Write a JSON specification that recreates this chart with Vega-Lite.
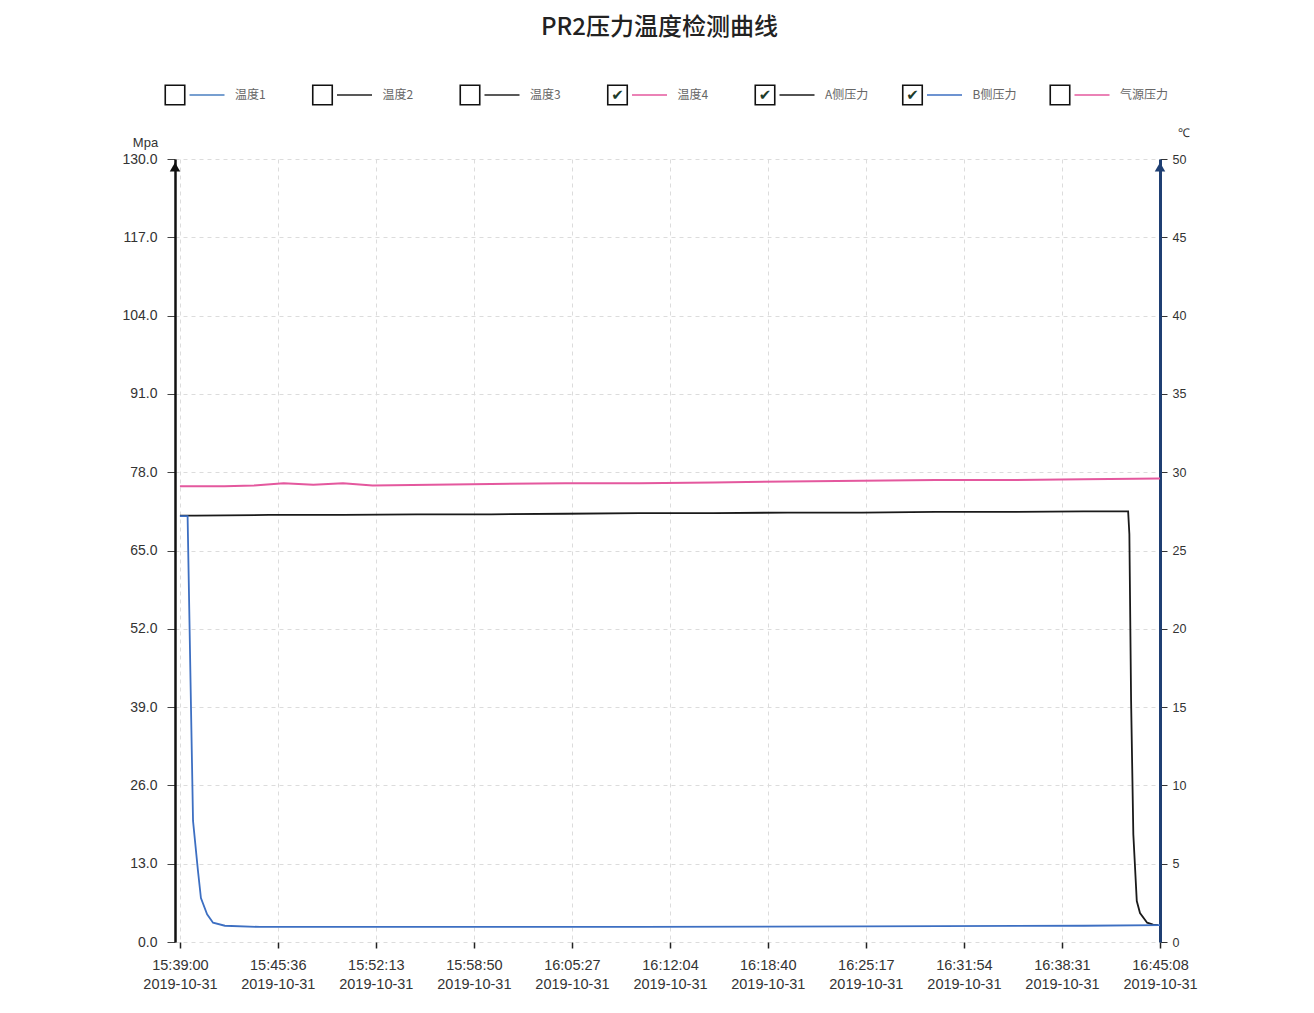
{
  "$schema": "https://vega.github.io/schema/vega-lite/v6.json",
  "padding": {"left": 121, "top": 16, "right": 5, "bottom": 5},
  "background": "white",
  "title": {"text": "PR2压力温度检测曲线", "font": "Noto Sans CJK SC", "fontSize": 24, "fontWeight": 500, "color": "#222", "anchor": "middle", "offset": 42},
  "datasets": {
    "legend": [
      {"name": "温度1", "checked": false},
      {"name": "温度2", "checked": false},
      {"name": "温度3", "checked": false},
      {"name": "温度4", "checked": true},
      {"name": "A侧压力", "checked": true},
      {"name": "B侧压力", "checked": true},
      {"name": "气源压力", "checked": false}
    ],
    "pressure": [
      {"series": "A侧压力", "time": "2019-10-31T15:39:00", "value": 70.8},
      {"series": "A侧压力", "time": "2019-10-31T15:40:00", "value": 70.8},
      {"series": "A侧压力", "time": "2019-10-31T15:45:00", "value": 70.9},
      {"series": "A侧压力", "time": "2019-10-31T15:50:00", "value": 70.9},
      {"series": "A侧压力", "time": "2019-10-31T15:55:00", "value": 71.0},
      {"series": "A侧压力", "time": "2019-10-31T16:00:00", "value": 71.0},
      {"series": "A侧压力", "time": "2019-10-31T16:05:00", "value": 71.1},
      {"series": "A侧压力", "time": "2019-10-31T16:10:00", "value": 71.2},
      {"series": "A侧压力", "time": "2019-10-31T16:15:00", "value": 71.2},
      {"series": "A侧压力", "time": "2019-10-31T16:20:00", "value": 71.3},
      {"series": "A侧压力", "time": "2019-10-31T16:25:00", "value": 71.3},
      {"series": "A侧压力", "time": "2019-10-31T16:30:00", "value": 71.4},
      {"series": "A侧压力", "time": "2019-10-31T16:35:00", "value": 71.4},
      {"series": "A侧压力", "time": "2019-10-31T16:40:00", "value": 71.5},
      {"series": "A侧压力", "time": "2019-10-31T16:42:59", "value": 71.5},
      {"series": "A侧压力", "time": "2019-10-31T16:43:04", "value": 67.7},
      {"series": "A侧压力", "time": "2019-10-31T16:43:11", "value": 40.0},
      {"series": "A侧压力", "time": "2019-10-31T16:43:20", "value": 17.9},
      {"series": "A侧压力", "time": "2019-10-31T16:43:34", "value": 6.8},
      {"series": "A侧压力", "time": "2019-10-31T16:43:47", "value": 4.8},
      {"series": "A侧压力", "time": "2019-10-31T16:44:16", "value": 3.2},
      {"series": "A侧压力", "time": "2019-10-31T16:44:40", "value": 2.9},
      {"series": "A侧压力", "time": "2019-10-31T16:45:00", "value": 2.8},
      {"series": "B侧压力", "time": "2019-10-31T15:39:00", "value": 70.7},
      {"series": "B侧压力", "time": "2019-10-31T15:39:31", "value": 70.7},
      {"series": "B侧压力", "time": "2019-10-31T15:39:53", "value": 20.1},
      {"series": "B侧压力", "time": "2019-10-31T15:40:13", "value": 11.8},
      {"series": "B侧压力", "time": "2019-10-31T15:40:25", "value": 7.3},
      {"series": "B侧压力", "time": "2019-10-31T15:40:50", "value": 4.6},
      {"series": "B侧压力", "time": "2019-10-31T15:41:14", "value": 3.2},
      {"series": "B侧压力", "time": "2019-10-31T15:42:02", "value": 2.7},
      {"series": "B侧压力", "time": "2019-10-31T15:44:24", "value": 2.5},
      {"series": "B侧压力", "time": "2019-10-31T15:55:00", "value": 2.5},
      {"series": "B侧压力", "time": "2019-10-31T16:10:00", "value": 2.5},
      {"series": "B侧压力", "time": "2019-10-31T16:25:00", "value": 2.6},
      {"series": "B侧压力", "time": "2019-10-31T16:40:00", "value": 2.7},
      {"series": "B侧压力", "time": "2019-10-31T16:45:08", "value": 2.8}
    ],
    "temperature": [
      {"series": "温度4", "time": "2019-10-31T15:39:00", "value": 29.1},
      {"series": "温度4", "time": "2019-10-31T15:42:00", "value": 29.1},
      {"series": "温度4", "time": "2019-10-31T15:44:00", "value": 29.15},
      {"series": "温度4", "time": "2019-10-31T15:46:00", "value": 29.3},
      {"series": "温度4", "time": "2019-10-31T15:48:00", "value": 29.2},
      {"series": "温度4", "time": "2019-10-31T15:50:00", "value": 29.3},
      {"series": "温度4", "time": "2019-10-31T15:52:00", "value": 29.15},
      {"series": "温度4", "time": "2019-10-31T15:56:00", "value": 29.2},
      {"series": "温度4", "time": "2019-10-31T16:00:00", "value": 29.25},
      {"series": "温度4", "time": "2019-10-31T16:05:00", "value": 29.3},
      {"series": "温度4", "time": "2019-10-31T16:10:00", "value": 29.3},
      {"series": "温度4", "time": "2019-10-31T16:15:00", "value": 29.35},
      {"series": "温度4", "time": "2019-10-31T16:20:00", "value": 29.4},
      {"series": "温度4", "time": "2019-10-31T16:25:00", "value": 29.45},
      {"series": "温度4", "time": "2019-10-31T16:30:00", "value": 29.5},
      {"series": "温度4", "time": "2019-10-31T16:35:00", "value": 29.5},
      {"series": "温度4", "time": "2019-10-31T16:40:00", "value": 29.55},
      {"series": "温度4", "time": "2019-10-31T16:45:08", "value": 29.6}
    ]
  },
  "spacing": 18,
  "vconcat": [
    {
      "width": 985,
      "height": 24,
      "data": {"name": "legend"},
      "encoding": {
        "x": {"field": "name", "type": "nominal", "sort": null, "scale": {"type": "point", "range": [0, 885], "padding": 0}, "axis": null}
      },
      "layer": [
        {"mark": {"type": "point", "shape": "square", "size": 380, "filled": false, "stroke": "#111", "strokeWidth": 1.6, "opacity": 1}},
        {"transform": [{"filter": "datum.checked"}], "mark": {"type": "text", "text": "✔", "fontSize": 15, "color": "#1d3b2a", "font": "DejaVu Sans"}},
        {
          "mark": {"type": "point", "shape": "M-1,0L1,0", "size": 1225, "filled": false, "strokeWidth": 1.6, "xOffset": 32, "opacity": 1},
          "encoding": {"stroke": {"field": "name", "type": "nominal", "scale": {"domain": ["温度1", "温度2", "温度3", "温度4", "A侧压力", "B侧压力", "气源压力"], "range": ["#4a7fc1", "#222222", "#222222", "#e4589e", "#1a1a1a", "#3d6fc2", "#e4589e"]}, "legend": null}}
        },
        {"mark": {"type": "text", "align": "left", "dx": 60, "fontSize": 12, "font": "Noto Sans CJK SC", "color": "#666"}, "encoding": {"text": {"field": "name"}}}
      ]
    },
    {
      "width": 985,
      "height": 783,
      "layer": [
        {
          "layer": [
            {
              "data": {"name": "pressure"},
              "mark": {"type": "line", "strokeWidth": 1.8},
              "encoding": {
                "x": {
                  "field": "time", "type": "temporal",
                  "scale": {"domain": [
                    {"year": 2019, "month": 10, "date": 31, "hours": 15, "minutes": 38, "seconds": 40},
                    {"year": 2019, "month": 10, "date": 31, "hours": 16, "minutes": 45, "seconds": 8}
                  ]},
                  "axis": {
                    "values": [
                      {"year": 2019, "month": 10, "date": 31, "hours": 15, "minutes": 39, "seconds": 0},
                      {"year": 2019, "month": 10, "date": 31, "hours": 15, "minutes": 45, "seconds": 36},
                      {"year": 2019, "month": 10, "date": 31, "hours": 15, "minutes": 52, "seconds": 13},
                      {"year": 2019, "month": 10, "date": 31, "hours": 15, "minutes": 58, "seconds": 50},
                      {"year": 2019, "month": 10, "date": 31, "hours": 16, "minutes": 5, "seconds": 27},
                      {"year": 2019, "month": 10, "date": 31, "hours": 16, "minutes": 12, "seconds": 4},
                      {"year": 2019, "month": 10, "date": 31, "hours": 16, "minutes": 18, "seconds": 40},
                      {"year": 2019, "month": 10, "date": 31, "hours": 16, "minutes": 25, "seconds": 17},
                      {"year": 2019, "month": 10, "date": 31, "hours": 16, "minutes": 31, "seconds": 54},
                      {"year": 2019, "month": 10, "date": 31, "hours": 16, "minutes": 38, "seconds": 31},
                      {"year": 2019, "month": 10, "date": 31, "hours": 16, "minutes": 45, "seconds": 8}
                    ],
                    "labelExpr": "[timeFormat(datum.value, '%H:%M:%S'), timeFormat(datum.value, '%Y-%m-%d')]",
                    "domain": false,
                    "tickSize": 6, "tickColor": "#222", "tickWidth": 1.5,
                    "labelFontSize": 14.5, "labelColor": "#333", "labelPadding": 10, "labelLineHeight": 19,
                    "labelFlush": false, "labelOverlap": false,
                    "grid": true, "gridColor": "#dcdcdc", "gridDash": [4, 4],
                    "title": null
                  }
                },
                "y": {
                  "field": "value", "type": "quantitative",
                  "scale": {"domain": [0, 130]},
                  "axis": {
                    "values": [0, 13, 26, 39, 52, 65, 78, 91, 104, 117, 130],
                    "format": ".1f",
                    "grid": true, "gridColor": "#dcdcdc", "gridDash": [4, 4],
                    "domainColor": "#111", "domainWidth": 2.5,
                    "tickSize": 8, "tickColor": "#444",
                    "labelFontSize": 14, "labelColor": "#333", "labelPadding": 10,
                    "title": "Mpa", "titleAngle": 0, "titleX": -30, "titleY": -10, "titleAlign": "center", "titleBaseline": "bottom",
                    "titleFontSize": 13, "titleFontWeight": "normal", "titleColor": "#333"
                  }
                },
                "color": {"field": "series", "type": "nominal", "scale": {"domain": ["A侧压力", "B侧压力"], "range": ["#1a1a1a", "#3d6fc2"]}, "legend": null}
              }
            },
            {
              "data": {"values": [{}]},
              "mark": {"type": "point", "shape": "triangle-up", "filled": true, "size": 110, "color": "#111", "opacity": 1, "yOffset": 8},
              "encoding": {
                "x": {"datum": {"year": 2019, "month": 10, "date": 31, "hours": 15, "minutes": 38, "seconds": 40}, "type": "temporal"},
                "y": {"datum": 130, "type": "quantitative"}
              }
            },
            {
              "data": {"values": [{}]},
              "mark": {"type": "point", "shape": "triangle-up", "filled": true, "size": 110, "color": "#1f3f73", "opacity": 1, "yOffset": 8},
              "encoding": {
                "x": {"datum": {"year": 2019, "month": 10, "date": 31, "hours": 16, "minutes": 45, "seconds": 8}, "type": "temporal"},
                "y": {"datum": 130, "type": "quantitative"}
              }
            }
          ]
        },
        {
          "data": {"name": "temperature"},
          "mark": {"type": "line", "color": "#e4589e", "strokeWidth": 2},
          "encoding": {
            "x": {"field": "time", "type": "temporal"},
            "y": {
              "field": "value", "type": "quantitative",
              "scale": {"domain": [0, 50]},
              "axis": {
                "orient": "right",
                "values": [0, 5, 10, 15, 20, 25, 30, 35, 40, 45, 50],
                "format": "d",
                "grid": false,
                "domainColor": "#1f3f73", "domainWidth": 3,
                "tickSize": 7, "tickColor": "#333",
                "labelFontSize": 12.5, "labelColor": "#333", "labelPadding": 5,
                "title": "℃", "titleAngle": 0, "titleX": 23, "titleY": -20, "titleAlign": "center", "titleBaseline": "bottom",
                "titleFontSize": 12, "titleFontWeight": "normal", "titleColor": "#333"
              }
            }
          }
        }
      ],
      "resolve": {"scale": {"y": "independent", "color": "independent"}}
    }
  ],
  "config": {"view": {"stroke": null}, "font": "Liberation Sans"}
}
